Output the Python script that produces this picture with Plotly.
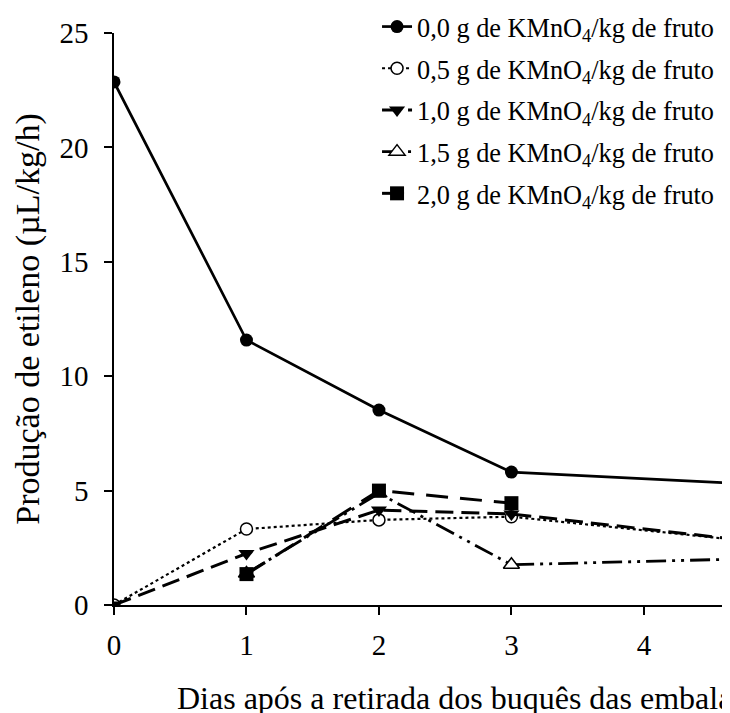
import plotly.graph_objects as go

days = [0, 1, 2, 3, 5]
days_late = [1, 2, 3, 5]

s00 = [22.86, 11.58, 8.52, 5.81, 5.23]
s05 = [0.0, 3.32, 3.72, 3.86, 2.67]
s10 = [0.0, 2.25, 4.15, 3.98, 2.67]
s15 = [1.38, 4.88, 1.76, 2.05]
s20 = [1.35, 5.0, 4.45]
days_20 = [1, 2, 3]

names = [
    "0,0 g de KMnO<sub>4</sub>/kg de fruto",
    "0,5 g de KMnO<sub>4</sub>/kg de fruto",
    "1,0 g de KMnO<sub>4</sub>/kg de fruto",
    "1,5 g de KMnO<sub>4</sub>/kg de fruto",
    "2,0 g de KMnO<sub>4</sub>/kg de fruto",
]

FONT = "Liberation Serif"

fig = go.Figure()
fig.add_trace(go.Scatter(x=days, y=s00, name=names[0], mode="lines+markers",
                         line=dict(color="black", width=2.7, dash="solid"),
                         marker=dict(symbol="circle", size=13, color="black"),
                         legendgroup="a"))
fig.add_trace(go.Scatter(x=days, y=s05, name=names[1], mode="lines+markers",
                         line=dict(color="black", width=2.2, dash="dot"),
                         marker=dict(symbol="circle", size=12, color="white",
                                     line=dict(color="black", width=1.5)),
                         legendgroup="b"))
fig.add_trace(go.Scatter(x=days, y=s10, name=names[2], mode="lines+markers",
                         line=dict(color="black", width=3, dash="18px,8px"),
                         marker=dict(symbol="triangle-down", size=14, color="black"),
                         legendgroup="c"))
fig.add_trace(go.Scatter(x=days_late, y=s15, name=names[3], mode="lines+markers",
                         line=dict(color="black", width=2.8, dash="20px,6px,3px,6px,3px,6px"),
                         marker=dict(symbol="triangle-up", size=14, color="white",
                                     line=dict(color="black", width=1.5)),
                         legendgroup="d"))
fig.add_trace(go.Scatter(x=days_20, y=s20, name=names[4], mode="lines+markers",
                         line=dict(color="black", width=3, dash="22px,12px"),
                         marker=dict(symbol="square", size=14, color="black"),
                         legendgroup="e"))

W, H = 722, 705
L, T, PW, PH = 106, 25, 616, 572

fig.update_layout(
    width=W, height=H,
    margin=dict(l=L, r=W - L - PW, t=T, b=H - T - PH, autoexpand=False),
    paper_bgcolor="white", plot_bgcolor="white",
    font=dict(family=FONT, size=29, color="black"),
    showlegend=True,
    legend=dict(x=0.427, xanchor="left", y=1.0525, yanchor="top",
                bgcolor="rgba(0,0,0,0)", font=dict(family=FONT, size=26.3),
                tracegroupgap=4.5, itemwidth=30),
    xaxis=dict(range=[0, 4.65], tickvals=[0, 1, 2, 3, 4], ticktext=["0", "1", "2", "3", "4"],
               showgrid=False, zeroline=False, showline=True, linecolor="black", linewidth=1.5,
               ticks="outside", ticklen=8, tickwidth=1.5, tickcolor="black",
               ticklabelstandoff=5, tickfont=dict(family=FONT, size=29)),
    yaxis=dict(range=[0, 25], tickvals=[0, 5, 10, 15, 20, 25],
               showgrid=False, zeroline=False, showline=True, linecolor="black", linewidth=1.5,
               ticks="outside", ticklen=8, tickwidth=1.5, tickcolor="black",
               ticklabelstandoff=10, tickfont=dict(family=FONT, size=29),
               title=dict(text="Produção de etileno (µL/kg/h)",
                          font=dict(family=FONT, size=34), standoff=10)),
    annotations=[dict(text="Dias após a retirada dos buquês das embalagens",
                      xref="paper", yref="paper", x=(175 - 114) / PW, y=-0.163,
                      xanchor="left", yanchor="middle", showarrow=False,
                      font=dict(family=FONT, size=32))],
)

fig.write_html("out.html")
